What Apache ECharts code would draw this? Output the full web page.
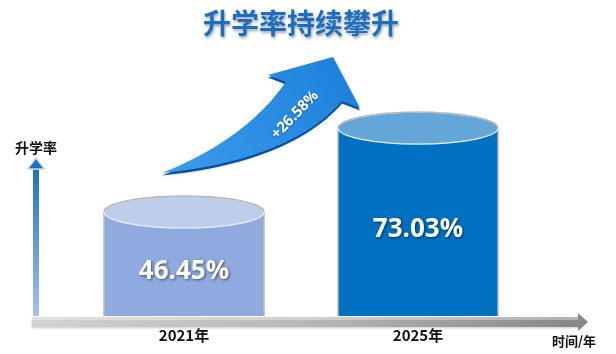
<!DOCTYPE html>
<html>
<head>
<meta charset="utf-8">
<script src="https://cdn.jsdelivr.net/npm/echarts@6/dist/echarts.min.js"></script>
<style>html,body{margin:0;padding:0;background:#fff;}#c{width:616px;height:354px;}</style>
</head>
<body>
<div id="c"></div>
<script>
const categories = ['2021年', '2025年'];
const rates = [46.45, 73.03];
const titleText = '升学率持续攀升';
const yAxisName = '升学率';
const xAxisName = '时间/年';

const bodyColors = ['#8eaadf', '#0070c0'];
const topColors = ['#bdcdea', '#65a6d8'];
const Y_MIN = 13.5, Y_MAX = 100;

const growth = (rates[1] - rates[0]).toFixed(2);
const chart = echarts.init(document.getElementById('c'));

function renderCyl(params, api) {
  const i = api.value(0);
  const v = api.value(1);
  const top = api.coord([i, v]);
  const base = api.coord([i, Y_MIN]);
  const w = api.size([1, 0])[0] * 0.684;
  const rx = w / 2, ry = 16;
  const cx = top[0], cy = top[1], by = base[1];
  const arcPts = [];
  for (let k = 0; k <= 40; k++) {
    const a = Math.PI + Math.PI * k / 40;
    arcPts.push([cx + rx * Math.cos(a), cy + ry * Math.sin(a)]);
  }
  return {
    type: 'group',
    children: [
      { type: 'rect', shape: { x: cx - rx, y: cy, width: w, height: by - cy },
        style: { fill: bodyColors[i] } },
      { type: 'line', shape: { x1: cx - rx, y1: cy, x2: cx - rx, y2: by }, style: { stroke: '#bdbdbd', lineWidth: 1.5 } },
      { type: 'line', shape: { x1: cx + rx, y1: cy, x2: cx + rx, y2: by }, style: { stroke: '#bdbdbd', lineWidth: 1.5 } },
      { type: 'ellipse', shape: { cx: cx, cy: cy, rx: rx, ry: ry },
        style: { fill: topColors[i], stroke: '#eef2f8', lineWidth: 1.2 } },
      { type: 'polyline', shape: { points: arcPts },
        style: { fill: null, stroke: '#b8b8b8', lineWidth: 1.5 } },
      { type: 'text', x: cx, y: (cy + by) / 2 + 8,
        style: { text: v.toFixed(2) + '%', fill: '#fff', font: 'bold 26px "Open Sans", sans-serif',
          align: 'center', verticalAlign: 'middle',
          textShadowColor: 'rgba(0,0,0,0.55)', textShadowBlur: 3, textShadowOffsetX: 1, textShadowOffsetY: 1 } }
    ]
  };
}

// decorative growth arrow outline (quadratic curves sampled into a polygon)
function quad(p0, c, p1, n) {
  const out = [];
  for (let k = 0; k <= n; k++) {
    const t = k / n, u = 1 - t;
    out.push([u * u * p0[0] + 2 * u * t * c[0] + t * t * p1[0], u * u * p0[1] + 2 * u * t * c[1] + t * t * p1[1]]);
  }
  return out;
}
const arrowPts = [].concat(
  quad([162, 173], [245, 140], [286, 82], 30),
  [[268, 75], [333, 57], [360, 108]],
  quad([342, 101], [290, 160], [162, 173], 30)
);
const arrowShadowPts = arrowPts.map(p => [p[0], p[1] + 2.5]);

chart.setOption({
  backgroundColor: '#fff',
  animation: false,
  grid: { left: 67, right: 81, top: 43, bottom: 38 },
  xAxis: {
    type: 'category', data: categories,
    axisLine: { show: false }, axisTick: { show: false },
    axisLabel: { margin: 12, fontSize: 15, fontWeight: 'bold', color: '#111', fontFamily: '"Noto Sans CJK SC", sans-serif' }
  },
  yAxis: { type: 'value', min: Y_MIN, max: Y_MAX, show: false },
  series: [{
    type: 'custom',
    renderItem: renderCyl,
    data: rates.map((v, i) => [i, v]),
    z: 2
  }],
  graphic: [
    { type: 'text', x: 301, y: 23, z: 10,
      style: { text: titleText, fill: '#1a6ec4', font: 'bold 28px "Noto Sans CJK SC", sans-serif',
        align: 'center', verticalAlign: 'middle',
        textShadowColor: 'rgba(0,0,0,0.35)', textShadowBlur: 3, textShadowOffsetX: 1, textShadowOffsetY: 2 } },
    { type: 'polygon', z: 5, shape: { points: arrowShadowPts },
      style: { fill: '#0b5cae' } },
    { type: 'polygon', z: 6, shape: { points: arrowPts },
      style: { fill: new echarts.graphic.LinearGradient(0, 1, 1, 0, [
        { offset: 0, color: '#3c9cea' }, { offset: 1, color: '#1b80dc' }]),
        shadowColor: 'rgba(0,0,0,0.2)', shadowBlur: 4, shadowOffsetY: 2 } },
    { type: 'text', z: 7, x: 295, y: 115, rotation: 0.8,
      style: { text: '+' + growth + '%', fill: '#fff', font: 'bold 15px "Open Sans", sans-serif',
        align: 'center', verticalAlign: 'middle',
        textShadowColor: 'rgba(0,0,0,0.4)', textShadowBlur: 2, textShadowOffsetY: 1 } },
    { type: 'rect', z: 8, shape: { x: 33, y: 165, width: 6, height: 151 },
      style: { fill: new echarts.graphic.LinearGradient(0, 0, 0, 1, [
        { offset: 0, color: '#1a6fc3' }, { offset: 1, color: '#a9c0ec' }]) } },
    { type: 'polygon', z: 9, shape: { points: [[27.5, 169], [36, 158], [44.5, 169]] },
      style: { fill: '#1a6fc3', stroke: '#d6d6d6', lineWidth: 1.5 } },
    { type: 'text', z: 9, x: 15, y: 148,
      style: { text: yAxisName, fill: '#111', font: 'bold 14px "Noto Sans CJK SC", sans-serif', verticalAlign: 'middle' } },
    { type: 'rect', z: 8, shape: { x: 32, y: 317, width: 547, height: 10 },
      style: { fill: new echarts.graphic.LinearGradient(0, 0, 1, 0, [
        { offset: 0, color: '#d2d2d2' }, { offset: 0.5, color: '#b8b8b8' }, { offset: 1, color: '#878787' }]),
        shadowColor: 'rgba(0,0,0,0.2)', shadowBlur: 2, shadowOffsetY: 1 } },
    { type: 'rect', z: 9, shape: { x: 32, y: 317, width: 547, height: 3 },
      style: { fill: 'rgba(255,255,255,0.35)' } },
    { type: 'polygon', z: 9, shape: { points: [[578, 313], [588, 322], [578, 331]] },
      style: { fill: '#878787' } },
    { type: 'text', z: 9, x: 552, y: 341,
      style: { text: xAxisName, fill: '#111', font: 'bold 13px "Noto Sans CJK SC", sans-serif', verticalAlign: 'middle' } }
  ]
});
</script>
</body>
</html>
